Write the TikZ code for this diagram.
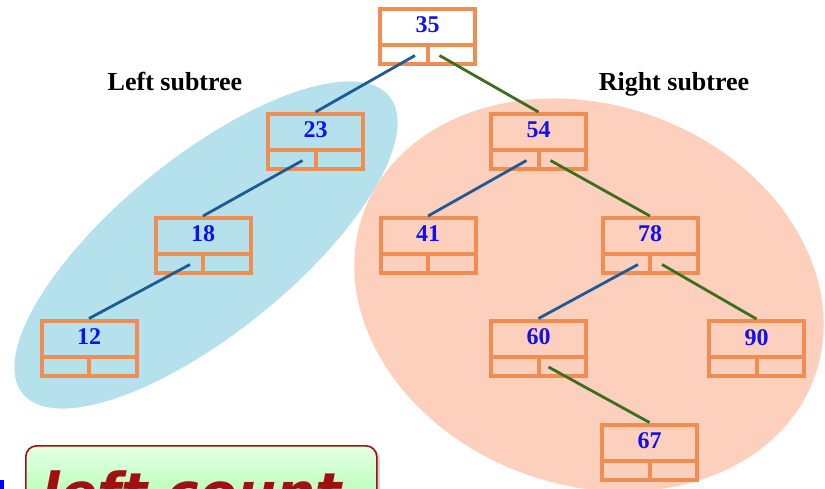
\documentclass[tikz,border=0pt]{standalone}
\usepackage{fontspec}
\setmainfont{Liberation Serif}
\newfontfamily\btnfont{DejaVu Sans}
\usetikzlibrary{shadows}
\definecolor{boxorange}{HTML}{EF8E52}
\definecolor{numblue}{HTML}{1010F0}
\definecolor{leftblue}{HTML}{B5E1EC}
\definecolor{rightpeach}{HTML}{FDD0BE}
\definecolor{edgeblue}{HTML}{1F5A96}
\definecolor{edgegreen}{HTML}{3C6E1E}
\definecolor{btnred}{HTML}{A01010}
\tikzset{
  treebox/.style={draw=boxorange, line width=4pt, minimum width=95pt, minimum height=55pt, inner sep=0pt,
    path picture={
      \draw[boxorange, line width=4pt] ([yshift=19pt]path picture bounding box.south west) -- ([yshift=19pt]path picture bounding box.south east);
      \draw[boxorange, line width=4pt] (path picture bounding box.south) -- ([yshift=19pt]path picture bounding box.south);
    }},
  numtext/.style={text=numblue, font=\fontsize{24}{26}\selectfont\bfseries, inner sep=0pt, anchor=base},
  lefte/.style={draw=edgeblue, line width=2.8pt},
  righte/.style={draw=edgegreen, line width=2.8pt},
  sublabel/.style={font=\fontsize{26}{28}\selectfont\bfseries, inner sep=0pt, anchor=base},
}
\newcommand\bstbox[4]{%
  \node[treebox] (#1) at (#2,#3) {};
  \node[numtext] (#1v) at ([yshift=3.5pt]#1.center) {#4};
}
\begin{document}
\begin{tikzpicture}[x=1pt,y=-1pt]
\useasboundingbox (0,0) rectangle (825,489);
\clip (0,0) rectangle (825,489);
% background regions
\fill[leftblue, rotate around={39:(206,245)}] (206,245) ellipse [x radius=236pt, y radius=88pt];
\fill[rightpeach, rotate around={-20:(589,295)}] (589,295) ellipse [x radius=240pt, y radius=190pt];
% labels
\node[sublabel] (lsub) at (175,91) {Left subtree};
\node[sublabel] (rsub) at (674,91) {Right subtree};
% tree nodes
\bstbox{n35}{427.5}{36.5}{35}
\bstbox{n23}{315.5}{141.5}{23}
\bstbox{n54}{538.5}{141.5}{54}
\bstbox{n18}{203}{245.5}{18}
\bstbox{n41}{428}{245.5}{41}
\bstbox{n78}{650}{245.5}{78}
\bstbox{n12}{89}{348}{12}
\bstbox{n60}{538.5}{348}{60}
\bstbox{n90}{756.5}{348.5}{90}
\bstbox{n67}{649.5}{452}{67}
% edges
\draw[lefte] ([xshift=-12.5pt,yshift=-19pt]n35.center) -- (n23.north);
\draw[righte] ([xshift=12pt,yshift=-19pt]n35.center) -- (n54.north);
\draw[lefte] ([xshift=-13pt,yshift=-19pt]n23.center) -- (n18.north);
\draw[lefte] ([xshift=-12pt,yshift=-19pt]n54.center) -- (n41.north);
\draw[righte] ([xshift=12pt,yshift=-19pt]n54.center) -- (n78.north);
\draw[lefte] ([xshift=-13pt,yshift=-19pt]n18.center) -- (n12.north);
\draw[lefte] ([xshift=-12pt,yshift=-19pt]n78.center) -- (n60.north);
\draw[righte] ([xshift=12pt,yshift=-19pt]n78.center) -- (n90.north);
\draw[righte] ([xshift=10pt,yshift=-19pt]n60.center) -- (n67.north);
% bottom button
\node[draw=btnred, line width=1.6pt, rounded corners=11pt, top color=green!10!white, bottom color=green!38!white,
      drop shadow={shadow xshift=3pt, shadow yshift=-2pt, opacity=0.35},
      minimum width=351pt, minimum height=80pt, anchor=north west, inner sep=0pt] (btn) at (25,445) {};
\node[text=btnred, font=\btnfont\bfseries\itshape\fontsize{55}{60}\selectfont, anchor=base west, inner sep=0pt] (btntext) at (41,512) {left count};
\fill[blue] (0,480) rectangle (3.5,489);
\end{tikzpicture}
\end{document}
